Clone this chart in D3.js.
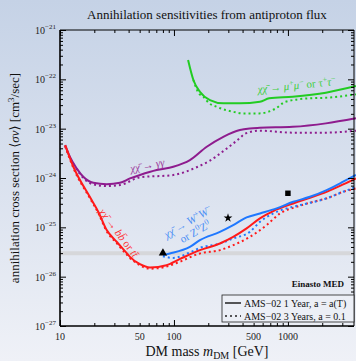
<!DOCTYPE html>
<html>
<head>
<meta charset="utf-8">
<script src="https://cdn.jsdelivr.net/npm/d3@7"></script>
<style>
  body { margin: 0; }
  text { font-family: "Liberation Serif", "DejaVu Serif", serif; }
</style>
</head>
<body>
<svg id="chart" width="356" height="361"></svg>
<script>
// data: [mass GeV, <sigma v> cm^3/s]
const bbSolid = [[11.1,4.65e-24],[13.1,1.69e-24],[18.3,4.1e-25],[21.7,2.06e-25],[25.7,8.8e-26],[31.4,5.1e-26],
  [38.5,3.0e-26],[41.1,2.52e-26],[50.3,1.79e-26],[61.6,1.54e-26],[86,1.71e-26],[112,2.26e-26],[169,3.45e-26],
  [253,4.7e-26],[331,6.4e-26],[434,9.5e-26],[568,1.52e-25],[743,2.13e-25],[1112,3.05e-25],[1560,3.97e-25],
  [2184,5.25e-25],[3055,7.4e-25],[3950,9.8e-25]];
const bbDotted = [[11.1,4.4e-24],[13.1,1.6e-24],[18.3,3.9e-25],[21.7,1.95e-25],[25.7,8.3e-26],[31.4,4.8e-26],
  [38.5,2.8e-26],[41.1,2.4e-26],[50.3,1.7e-26],[61.6,1.45e-26],[86,1.6e-26],[112,2.0e-26],[169,2.96e-26],
  [253,3.45e-26],[331,4.35e-26],[464,6.4e-26],[650,1.11e-25],[851,1.91e-25],[1191,2.61e-25],[1667,3.29e-25],
  [2184,3.86e-25],[3055,5.25e-25],[3950,6.15e-25]];
const wwSolid = [[80,2.75e-26],[92,2.96e-26],[138,4.0e-26],[169,5.5e-26],[253,8.1e-26],[331,1.11e-25],
  [434,1.59e-25],[568,1.91e-25],[796,2.42e-25],[1112,3.29e-25],[1560,4.16e-25],[2184,5.7e-25],[3055,8.4e-25],[3950,1.15e-24]];
const wwDotted = [[80,2.6e-26],[98.6,2.4e-26],[138,3.1e-26],[169,3.84e-26],[253,4.7e-26],[331,5.95e-26],
  [464,8.1e-26],[568,1.29e-25],[743,1.91e-25],[975,2.42e-25],[1274,2.82e-25],[2184,3.86e-25],[3055,5.25e-25],[3950,6.6e-25]];
const ggSolid = [[11.1,4.65e-24],[12.2,2.7e-24],[14.0,1.57e-24],[16.0,1.06e-24],[19.6,8.0e-25],[25.7,7.5e-25],
  [33.6,8.0e-25],[41.1,9.8e-25],[50.3,1.15e-24],[70.5,1.45e-24],[98.6,1.69e-24],[138,2.3e-24],[194,4.3e-24],
  [271,6.85e-24],[379,9.4e-24],[464,1.01e-23],[568,1.04e-23],[1100,1.09e-23],[2153,1.28e-23],[3950,1.62e-23]];
const ggDotted = [[11.1,4.5e-24],[12.2,2.6e-24],[14.0,1.5e-24],[16.0,1.0e-24],[19.6,7.4e-25],[25.7,6.85e-25],
  [33.6,7.2e-25],[50.3,1.03e-24],[98.6,1.15e-24],[158,1.65e-24],[204,2.2e-24],[271,3.5e-24],[331,5.0e-24],
  [380,6.5e-24],[425,8.0e-24],[568,9.1e-24],[1100,8.3e-24],[2153,8.3e-24],[3950,9.1e-24]];
const mumuSolid = [[133,2.46e-22],[148,9.7e-23],[169,5.6e-23],[207,3.8e-23],[271,3.26e-23],[379,3.26e-23],
  [568,3.51e-23],[685,4.12e-23],[1100,4.44e-23],[2153,5.35e-23],[3950,7.3e-23]];
const mumuDotted = [[148,9.7e-23],[165,5.2e-23],[181,4.44e-23],[204,3.26e-23],[237,2.78e-23],[285,2.38e-23],
  [331,2.2e-23],[400,2.04e-23],[560,2.04e-23],[785,2.58e-23],[950,3.51e-23],[1530,4.12e-23],[2153,4.24e-23],[3950,4.97e-23]];
const markers = [
  {m: 80, s: 3e-26, shape: d3.symbolTriangle},
  {m: 298, s: 1.55e-25, shape: d3.symbolStar},
  {m: 1000, s: 4.9e-25, shape: d3.symbolSquare}
];
const thermal = 3e-26;
const massTicks = [10, 50, 100, 500, 1000];
const decades = [-27, -26, -25, -24, -23, -22, -21];

const svg = d3.select("#chart");
const W = 356, H = 361;
const margin = {left: 60, right: 2, top: 30, bottom: 35};

// background gradient
const defs = svg.append("defs");
const grad = defs.append("linearGradient").attr("id", "bg").attr("x1", 0).attr("y1", 0).attr("x2", 0).attr("y2", 1);
grad.append("stop").attr("offset", "0%").attr("stop-color", "#c5d2e6");
grad.append("stop").attr("offset", "100%").attr("stop-color", "#eff1f7");
svg.append("rect").attr("width", W).attr("height", H).attr("fill", "url(#bg)");

let x = d3.scaleLog().domain([10, 3800]).range([margin.left, W - margin.right]);
let y = d3.scaleLog().domain([1e-27, 1e-21]).range([H - margin.bottom, margin.top]);

let g = svg.append("g");

// thermal band
g.append("line")
  .attr("x1", x(10)).attr("x2", x(3800))
  .attr("y1", y(thermal)).attr("y2", y(thermal))
  .attr("stroke", "#d6d7da").attr("stroke-width", 4);

let line = d3.line()
  .x(d => x(d[0]))
  .y(d => y(d[1]))
  .curve(d3.curveMonotoneX);

const series = [
  [ggDotted, "#8e1c8e", true], [ggSolid, "#8e1c8e", false],
  [mumuDotted, "#22cc22", true], [mumuSolid, "#22cc22", false],
  [bbDotted, "#ff1a1a", true], [wwDotted, "#1f78ff", true],
  [bbSolid, "#ff1a1a", false], [wwSolid, "#1f78ff", false]
];
for (const s of series) {
  g.append("path")
    .attr("d", line(s[0]))
    .attr("fill", "none")
    .attr("stroke", s[1])
    .attr("stroke-width", 2)
    .attr("stroke-dasharray", s[2] ? "2,3" : null);
}

g.selectAll(".mk")
  .data(markers).enter()
  .append("path")
  .attr("transform", d => "translate(" + x(d.m) + "," + y(d.s) + ")")
  .attr("d", d => d3.symbol().type(d.shape).size(d.shape === d3.symbolStar ? 24 : 30)())
  .attr("fill", "#000");

// axes with inward ticks
let minorY = [];
for (const e of decades.slice(0, -1)) for (let k = 2; k < 10; k++) minorY.push(k * Math.pow(10, e));
let majorY = decades.map(e => Math.pow(10, e));
let minorX = [];
for (const e of [1, 2, 3]) for (let k = 2; k < 10; k++) { let v = k * Math.pow(10, e); if (v < 3800) minorX.push(v); }
let majorX = [10, 100, 1000];

function addAxis(axisFn, scale, vals, size, tr) {
  let a = svg.append("g").attr("transform", tr)
    .call(axisFn(scale).tickValues(vals).tickSize(size).tickFormat(""));
  a.select(".domain").remove();
  a.selectAll("line").attr("stroke", "#000");
}
const bottomY = H - margin.bottom, rightX = W - margin.right;
addAxis(d3.axisLeft, y, majorY, -6, "translate(" + margin.left + ",0)");
addAxis(d3.axisLeft, y, minorY, -3, "translate(" + margin.left + ",0)");
addAxis(d3.axisRight, y, majorY, -6, "translate(" + rightX + ",0)");
addAxis(d3.axisRight, y, minorY, -3, "translate(" + rightX + ",0)");
addAxis(d3.axisBottom, x, majorX, -6, "translate(0," + bottomY + ")");
addAxis(d3.axisBottom, x, minorX, -3, "translate(0," + bottomY + ")");
addAxis(d3.axisTop, x, majorX, -6, "translate(0," + margin.top + ")");
addAxis(d3.axisTop, x, minorX, -3, "translate(0," + margin.top + ")");

// frame
svg.append("line").attr("x1", margin.left).attr("x2", margin.left).attr("y1", margin.top).attr("y2", bottomY)
  .attr("stroke", "#000").attr("stroke-width", 1.6);
svg.append("line").attr("x1", margin.left).attr("x2", rightX).attr("y1", bottomY).attr("y2", bottomY)
  .attr("stroke", "#000").attr("stroke-width", 1.6);
svg.append("line").attr("x1", margin.left).attr("x2", rightX).attr("y1", margin.top).attr("y2", margin.top)
  .attr("stroke", "#000").attr("stroke-width", 1);
svg.append("line").attr("x1", rightX).attr("x2", rightX).attr("y1", margin.top).attr("y2", bottomY)
  .attr("stroke", "#000").attr("stroke-width", 1);

// tick labels
svg.selectAll(".ylab").data(decades).enter()
  .append("text")
  .attr("x", 56).attr("y", d => y(Math.pow(10, d)) + 4)
  .attr("text-anchor", "end").attr("font-size", 10).attr("fill", "#222")
  .each(function(d) {
    let t = d3.select(this);
    t.append("tspan").text("10");
    t.append("tspan").attr("dy", -5).attr("font-size", 7).text("\u2212" + (-d));
  });
svg.selectAll(".xlab").data(massTicks).enter()
  .append("text")
  .attr("x", d => x(d)).attr("y", bottomY + 14)
  .attr("text-anchor", "middle").attr("font-size", 10).attr("fill", "#222")
  .text(d => d);

// titles
svg.append("text").attr("x", 207).attr("y", 19).attr("text-anchor", "middle")
  .attr("font-size", 13).attr("fill", "#111")
  .text("Annihilation sensitivities from antiproton flux");

let xl = svg.append("text").attr("x", 207).attr("y", 356).attr("text-anchor", "middle")
  .attr("font-size", 14).attr("fill", "#111");
xl.append("tspan").text("DM mass ");
xl.append("tspan").attr("font-style", "italic").text("m");
xl.append("tspan").attr("font-size", 10).attr("dy", 3).text("DM");
xl.append("tspan").attr("dy", -3).text(" [GeV]");

let yl = svg.append("text").attr("transform", "translate(19,178) rotate(-90)")
  .attr("text-anchor", "middle").attr("font-size", 13).attr("fill", "#111");
yl.append("tspan").text("annihilation cross section \u27E8");
yl.append("tspan").attr("font-style", "italic").text("\u03C3v");
yl.append("tspan").text("\u27E9 [cm");
yl.append("tspan").attr("font-size", 9).attr("dy", -5).text("3");
yl.append("tspan").attr("dy", 5).text("/sec]");

// curve labels
const FS = 11, SS = 8;
function curveLabel(cx, cy, ang, color, parts) {
  let t = svg.append("text").attr("transform", "translate(" + cx + "," + cy + ") rotate(" + ang + ")")
    .attr("text-anchor", "middle").attr("font-size", FS).attr("fill", color);
  for (const p of parts) {
    let s = t.append("tspan").text(p[0]);
    if (p[1]) s.attr("dy", p[1]);
    if (p[2]) s.attr("font-size", p[2]);
    if (p[3]) s.attr("font-style", "italic");
  }
}
const chi = "\u03C7\u03C7\u0304 \u2192 ";
curveLabel(297, 89, -6, "#3fcf3f", [[chi, 0, FS, true], ["\u03BC", 0, FS, true], ["+", -4, SS], ["\u03BC", 4, FS, true], ["\u2212", -4, SS], [" or \u03C4", 4, FS], ["+", -4, SS], ["\u03C4", 4, FS, true], ["\u2212", -4, SS]]);
curveLabel(148, 169, -11, "#9b3a9b", [[chi + "\u03B3\u03B3", 0, FS, true]]);
curveLabel(116, 235, 53, "#ff3030", [[chi + "b", 0, FS, true], ["b\u0304", 0, FS, true], [" or ", 0, FS], ["t", 0, FS, true], ["t\u0304", 0, FS, true]]);
curveLabel(190, 225, -30, "#4c8ff5", [[chi + "W", 0, FS, true], ["+", -4, SS], ["W", 4, FS, true], ["\u2212", -4, SS]]);
curveLabel(197, 235, -30, "#4c8ff5", [["or Z", 0, FS], ["0", -4, SS], ["Z", 4, FS], ["0", -4, SS]]);

// Einasto label and legend
svg.append("text").attr("x", 318).attr("y", 287).attr("text-anchor", "middle")
  .attr("font-size", 9).attr("font-weight", "bold").attr("fill", "#111").text("Einasto MED");

let lg = svg.append("g");
lg.append("rect").attr("x", 222).attr("y", 295).attr("width", 132).attr("height", 27)
  .attr("fill", "#eceff6").attr("stroke", "#222").attr("stroke-width", 0.8);
const legendRows = [["AMS\u221202 1 Year, a = a(T)", null], ["AMS\u221202 3 Years, a = 0.1", "2,3"]];
legendRows.forEach((r, i) => {
  let yy = 303 + i * 13;
  lg.append("line").attr("x1", 225).attr("x2", 241).attr("y1", yy).attr("y2", yy)
    .attr("stroke", "#222").attr("stroke-width", 1.5).attr("stroke-dasharray", r[1]);
  lg.append("text").attr("x", 244).attr("y", yy + 3.5).attr("font-size", 10).attr("fill", "#111").text(r[0]);
});
</script>
</body>
</html>
